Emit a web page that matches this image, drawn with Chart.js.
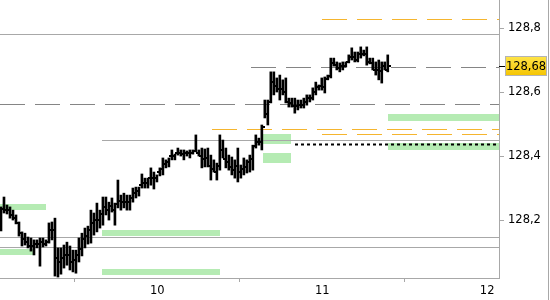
<!DOCTYPE html>
<html>
<head>
<meta charset="utf-8">
<script src="https://cdn.jsdelivr.net/npm/chart.js@4.4.1/dist/chart.umd.min.js"></script>
<style>
  body { margin: 0; background: #fff; }
</style>
</head>
<body>
<canvas id="priceChart" width="550" height="300"></canvas>
<script>
Chart.defaults.font.family = 'DejaVu Sans';
Chart.defaults.font.size = 11.5;
Chart.defaults.color = '#000';

const xTicks = [10, 11, 12];
const yTicks = [128.2, 128.4, 128.6, 128.8];

// bar time positions: first bar and spacing (in day units)
const firstBarX = 9.052;
const barStep = 1 / 55;

const highs = [
  128.241, 128.272, 128.247, 128.241, 128.231, 128.216, 128.194, 128.163, 128.159, 128.147,
  128.144, 128.138, 128.138, 128.144, 128.144, 128.138, 128.191, 128.194, 128.206, 128.113,
  128.113, 128.122, 128.131, 128.119, 128.106, 128.106, 128.144, 128.159, 128.175, 128.181,
  128.231, 128.222, 128.253, 128.231, 128.272, 128.272, 128.256, 128.269, 128.253, 128.325,
  128.278, 128.284, 128.278, 128.278, 128.300, 128.303, 128.303, 128.344, 128.331, 128.331,
  128.363, 128.350, 128.341, 128.363, 128.394, 128.388, 128.394, 128.419, 128.406, 128.425,
  128.419, 128.419, 128.416, 128.419, 128.419, 128.466, 128.419, 128.425, 128.422, 128.425,
  128.403, 128.388, 128.378, 128.466, 128.450, 128.425, 128.403, 128.397, 128.388, 128.425,
  128.372, 128.394, 128.388, 128.403, 128.434, 128.466, 128.456, 128.497, 128.575, 128.575,
  128.663, 128.663, 128.644, 128.653, 128.638, 128.644, 128.581, 128.581, 128.581, 128.575,
  128.575, 128.581, 128.591, 128.591, 128.613, 128.631, 128.622, 128.644, 128.647, 128.653,
  128.706, 128.706, 128.694, 128.691, 128.694, 128.694, 128.716, 128.738, 128.725, 128.725,
  128.741, 128.731, 128.741, 128.706, 128.706, 128.694, 128.700, 128.694, 128.694, 128.716
];

const lows = [
  128.166, 128.222, 128.219, 128.206, 128.200, 128.188, 128.150, 128.119, 128.122, 128.113,
  128.103, 128.091, 128.113, 128.056, 128.116, 128.119, 128.128, 128.138, 128.025, 128.022,
  128.031, 128.050, 128.059, 128.044, 128.038, 128.034, 128.069, 128.088, 128.113, 128.125,
  128.128, 128.153, 128.163, 128.175, 128.184, 128.216, 128.200, 128.225, 128.184, 128.238,
  128.231, 128.238, 128.231, 128.231, 128.256, 128.269, 128.275, 128.300, 128.300, 128.300,
  128.309, 128.297, 128.319, 128.338, 128.341, 128.363, 128.366, 128.388, 128.388, 128.403,
  128.400, 128.388, 128.400, 128.394, 128.406, 128.413, 128.400, 128.363, 128.366, 128.366,
  128.325, 128.350, 128.325, 128.356, 128.394, 128.363, 128.356, 128.341, 128.331, 128.319,
  128.331, 128.341, 128.347, 128.350, 128.356, 128.425, 128.434, 128.419, 128.519, 128.497,
  128.566, 128.591, 128.600, 128.575, 128.591, 128.566, 128.553, 128.553, 128.534, 128.544,
  128.550, 128.550, 128.559, 128.569, 128.575, 128.591, 128.606, 128.606, 128.597, 128.638,
  128.644, 128.681, 128.669, 128.663, 128.669, 128.678, 128.691, 128.700, 128.694, 128.694,
  128.706, 128.713, 128.684, 128.688, 128.669, 128.653, 128.638, 128.628, 128.669, 128.663
];

const closes = [
  128.235, 128.23, 128.23, 128.215, 128.205, 128.19, 128.16, 128.14, 128.13, 128.12,
  128.12, 128.125, 128.125, 128.13, 128.125, 128.13, 128.17, 128.17, 128.08, 128.07,
  128.08, 128.09, 128.09, 128.07, 128.075, 128.09, 128.11, 128.14, 128.15, 128.17,
  128.19, 128.2, 128.2, 128.22, 128.24, 128.23, 128.245, 128.23, 128.25, 128.26,
  128.255, 128.255, 128.255, 128.27, 128.285, 128.29, 128.31, 128.315, 128.315, 128.33,
  128.33, 128.33, 128.35, 128.36, 128.375, 128.38, 128.40, 128.40, 128.41, 128.41,
  128.405, 128.41, 128.41, 128.41, 128.415, 128.41, 128.40, 128.39, 128.395, 128.37,
  128.36, 128.35, 128.37, 128.42, 128.39, 128.38, 128.365, 128.355, 128.37, 128.35,
  128.36, 128.365, 128.38, 128.39, 128.43, 128.445, 128.445, 128.49, 128.53, 128.57,
  128.63, 128.62, 128.61, 128.61, 128.60, 128.57, 128.565, 128.555, 128.555, 128.56,
  128.56, 128.57, 128.58, 128.58, 128.60, 128.615, 128.62, 128.615, 128.64, 128.65,
  128.69, 128.685, 128.675, 128.68, 128.68, 128.695, 128.71, 128.71, 128.70, 128.72,
  128.72, 128.72, 128.695, 128.69, 128.67, 128.67, 128.665, 128.68, 128.67, 128.68
];

const firstOpen = 128.20;
const opens = [firstOpen].concat(closes.slice(0, -1));
const lastPrice = 128.68;

// horizontal levels: price and start time (null = from left edge)
const grayLevels = [128.781, 128.45, 128.147, 128.116];
const grayStarts = [null, 9.664, null, null];
const dashedLevels = [128.5625, 128.678];
const dashedStarts = [null, 10.567];
const orangeLevels = [128.828, 128.484, 128.469];
const orangeStarts = [10.998, 10.331, 10.998];
const dottedLevel = 128.4375;
const dottedStart = 10.834;

// green zones: [fromX, toX, lowPrice, highPrice]
const zones = [
  [9.046, 9.325, 128.231, 128.250],
  [9.046, 9.258, 128.091, 128.109],
  [9.664, 10.379, 128.150, 128.169],
  [9.664, 10.379, 128.028, 128.047],
  [10.640, 10.810, 128.4375, 128.469],
  [10.640, 10.810, 128.378, 128.409],
  [11.398, 12.072, 128.509, 128.531],
  [11.398, 12.072, 128.419, 128.441]
];

const barData = highs.map((h, i) => ({ x: firstBarX + i * barStep, y: [lows[i], h] }));

const overlayPlugin = {
  id: 'overlay',
  beforeDatasetsDraw(chart) {
    const { ctx, chartArea: a, scales: { x, y } } = chart;
    ctx.save();
    ctx.fillStyle = '#b5ebb3';
    zones.forEach(z => {
      const x0 = Math.round(x.getPixelForValue(z[0]));
      const x1 = Math.round(Math.min(x.getPixelForValue(z[1]), a.right));
      const y0 = Math.round(y.getPixelForValue(z[3]));
      const y1 = Math.round(y.getPixelForValue(z[2]));
      ctx.fillRect(x0, y0, x1 - x0, y1 - y0);
    });
    const line = (v, start, color, dash) => {
      const py = Math.round(y.getPixelForValue(v)) + 0.5;
      const px = start === null ? a.left : Math.round(x.getPixelForValue(start));
      ctx.strokeStyle = color;
      ctx.lineWidth = 1;
      ctx.setLineDash(dash);
      ctx.beginPath();
      ctx.moveTo(px, py);
      ctx.lineTo(a.right, py);
      ctx.stroke();
    };
    grayLevels.forEach((v, i) => line(v, grayStarts[i], '#a8a8a8', []));
    dashedLevels.forEach((v, i) => line(v, dashedStarts[i], '#858585', [25, 10]));
    orangeLevels.forEach((v, i) => line(v, orangeStarts[i], '#f5b52e', [25, 10]));
    ctx.restore();
  },
  afterDatasetsDraw(chart) {
    const { ctx, chartArea: a, scales: { x, y } } = chart;
    ctx.save();
    // open / close ticks
    ctx.fillStyle = '#000';
    barData.forEach((d, i) => {
      const px = Math.round(x.getPixelForValue(d.x));
      const po = Math.round(y.getPixelForValue(opens[i]));
      const pc = Math.round(y.getPixelForValue(closes[i]));
      ctx.fillRect(px - 3, po - 1, 2, 2);
      ctx.fillRect(px + 1, pc - 1, 2, 2);
    });
    // dotted level
    const dy = Math.round(y.getPixelForValue(dottedLevel)) + 0.5;
    ctx.strokeStyle = '#000';
    ctx.lineWidth = 2;
    ctx.setLineDash([3, 3]);
    ctx.beginPath();
    ctx.moveTo(Math.round(x.getPixelForValue(dottedStart)), dy);
    ctx.lineTo(a.right, dy);
    ctx.stroke();
    ctx.setLineDash([]);
    // right frame line
    ctx.strokeStyle = '#a8a8a8';
    ctx.lineWidth = 1;
    ctx.beginPath();
    ctx.moveTo(chart.width - 1.5, 0);
    ctx.lineTo(chart.width - 1.5, chart.height);
    ctx.stroke();
    // last price label
    const py = Math.round(y.getPixelForValue(lastPrice));
    ctx.fillStyle = '#000';
    ctx.fillRect(a.right, py, 6, 1);
    const g = ctx.createLinearGradient(0, py - 10, 0, py + 10);
    g.addColorStop(0, '#ffe54a');
    g.addColorStop(1, '#f5c400');
    ctx.fillStyle = g;
    ctx.fillRect(a.right + 6, py - 10, 42, 20);
    ctx.strokeStyle = '#b4b4b4';
    ctx.strokeRect(a.right + 6.5, py - 9.5, 41, 19);
    ctx.fillStyle = '#000';
    ctx.font = '11.5px "DejaVu Sans"';
    ctx.textAlign = 'center';
    ctx.textBaseline = 'middle';
    ctx.fillText(lastPrice.toFixed(2).replace('.', ','), a.right + 27, py + 1);
    ctx.restore();
  }
};

new Chart(document.getElementById('priceChart'), {
  type: 'bar',
  data: {
    datasets: [{
      data: barData,
      backgroundColor: '#000',
      borderWidth: 0,
      barThickness: 2
    }]
  },
  options: {
    responsive: false,
    animation: false,
    layout: { padding: 0 },
    plugins: {
      legend: { display: false },
      tooltip: { enabled: false }
    },
    scales: {
      x: {
        type: 'linear',
        min: 9.046,
        max: 12.072,
        offset: false,
        afterBuildTicks: s => { s.ticks = xTicks.map(v => ({ value: v })); },
        afterFit: s => {
          s.height = 22;
          s.paddingLeft = 0;
          s.paddingRight = 0;
        },
        ticks: { padding: 2, maxRotation: 0 },
        grid: { drawOnChartArea: false, tickLength: 4, color: '#a8a8a8' },
        border: { color: '#a8a8a8' }
      },
      y: {
        position: 'right',
        min: 128.019,
        max: 128.8875,
        afterBuildTicks: s => { s.ticks = yTicks.map(v => ({ value: v })); },
        afterFit: s => {
          s.width = 51;
          s.paddingTop = 0;
          s.paddingBottom = 0;
        },
        ticks: {
          padding: 4,
          callback: v => v.toFixed(1).replace('.', ',')
        },
        grid: { drawOnChartArea: false, tickLength: 5, color: '#a8a8a8' },
        border: { color: '#a8a8a8' }
      }
    }
  },
  plugins: [overlayPlugin]
});
</script>
</body>
</html>
